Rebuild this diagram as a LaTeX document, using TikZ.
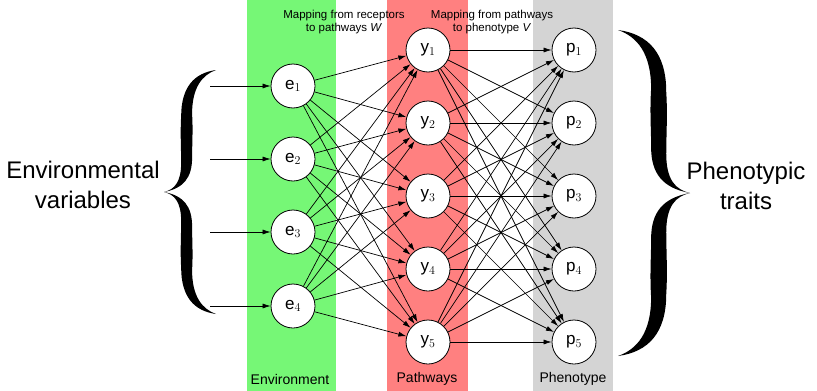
\documentclass[tikz,border=0pt]{standalone}
\usepackage{fontspec}
\setmainfont{Liberation Sans}
\usepackage{tikz}
\usetikzlibrary{arrows.meta}
\definecolor{EnvGreen}{RGB}{118,247,118}
\definecolor{PathRed}{RGB}{255,128,128}
\definecolor{PhenGray}{RGB}{212,212,212}

% one curly brace, tip at the origin, opening to the right
\newcommand{\curlybrace}{%
  (1,-1) .. controls (0.58,-0.975) and (0.33,-0.86) .. (0.33,-0.62)
  .. controls (0.31,-0.48) and (0.33,-0.36) .. (0.33,-0.24)
  .. controls (0.33,-0.08) and (0.2,-0.02) .. (0,0)
  .. controls (0.2,0.02) and (0.33,0.08) .. (0.33,0.24)
  .. controls (0.33,0.36) and (0.31,0.48) .. (0.33,0.62)
  .. controls (0.33,0.86) and (0.58,0.975) .. (1,1)
  .. controls (0.74,0.96) and (0.54,0.86) .. (0.54,0.64)
  .. controls (0.56,0.5) and (0.54,0.4) .. (0.54,0.28)
  .. controls (0.54,0.12) and (0.38,0.03) .. (0,0)
  .. controls (0.38,-0.03) and (0.54,-0.12) .. (0.54,-0.28)
  .. controls (0.54,-0.4) and (0.56,-0.5) .. (0.54,-0.64)
  .. controls (0.54,-0.86) and (0.74,-0.96) .. (1,-1) -- cycle}

\begin{document}
\begin{tikzpicture}[x=1pt, y=-1pt,
          unit/.style={circle, draw, fill=white, line width=0.8pt,
                       minimum size=44pt, inner sep=0pt, font=\fontsize{17}{17}\selectfont},
          arr/.style={-{Latex[length=8pt, width=5pt]}, line width=0.7pt},
          bandlbl/.style={font=\fontsize{14}{14}\selectfont},
          maplbl/.style={align=center, font=\fontsize{11.5}{13.5}\selectfont},
          biglbl/.style={align=center, font=\fontsize{24}{30}\selectfont}
        ]
        \useasboundingbox (0,0) rectangle (817,391);

        % layer bands
        \fill[EnvGreen] (247,0) rectangle (336,391);
        \fill[PathRed]  (387,0) rectangle (468,391);
        \fill[PhenGray] (533,0) rectangle (613,391);

        \node[bandlbl] (envlbl)  at (290,379) {Environment};
        \node[bandlbl] (pathlbl) at (427,379) {Pathways};
        \node[bandlbl] (phenlbl) at (573,379) {Phenotype};

        \node[maplbl] (mapW) at (344,22) {Mapping from receptors\\to pathways \textit{W}};
        \node[maplbl] (mapV) at (492,22) {Mapping from pathways\\to phenotype \textit{V}};

        % units
        \foreach \i/\yy in {1/86, 2/159, 3/232, 4/306} {
          \node[unit] (e\i) at (293,\yy) {e$_{\i}$};
          \coordinate (in\i) at (210,\yy);
          \draw[arr] (in\i) -- (e\i);
        }
        \foreach \i/\yy in {1/50, 2/123, 3/196, 4/269, 5/342} {
          \node[unit] (y\i) at (428,\yy) {y$_{\i}$};
          \node[unit] (p\i) at (574,\yy) {p$_{\i}$};
        }

        % full mappings W and V
        \foreach \i in {1,...,4} {
          \foreach \j in {1,...,5} {
            \draw[arr] (e\i) -- (y\j);
          }
        }
        \foreach \i in {1,...,5} {
          \foreach \j in {1,...,5} {
            \draw[arr] (y\i) -- (p\j);
          }
        }

        % braces
        \fill[shift={(164,192)}, xscale=52, yscale=122] \curlybrace;
        \fill[shift={(690,193)}, xscale=-72, yscale=163] \curlybrace;

        \node[biglbl] (envvars) at (83,185) {Environmental\\variables};
        \node[biglbl] (traits)  at (746,186) {Phenotypic\\traits};
      \end{tikzpicture}
\end{document}
